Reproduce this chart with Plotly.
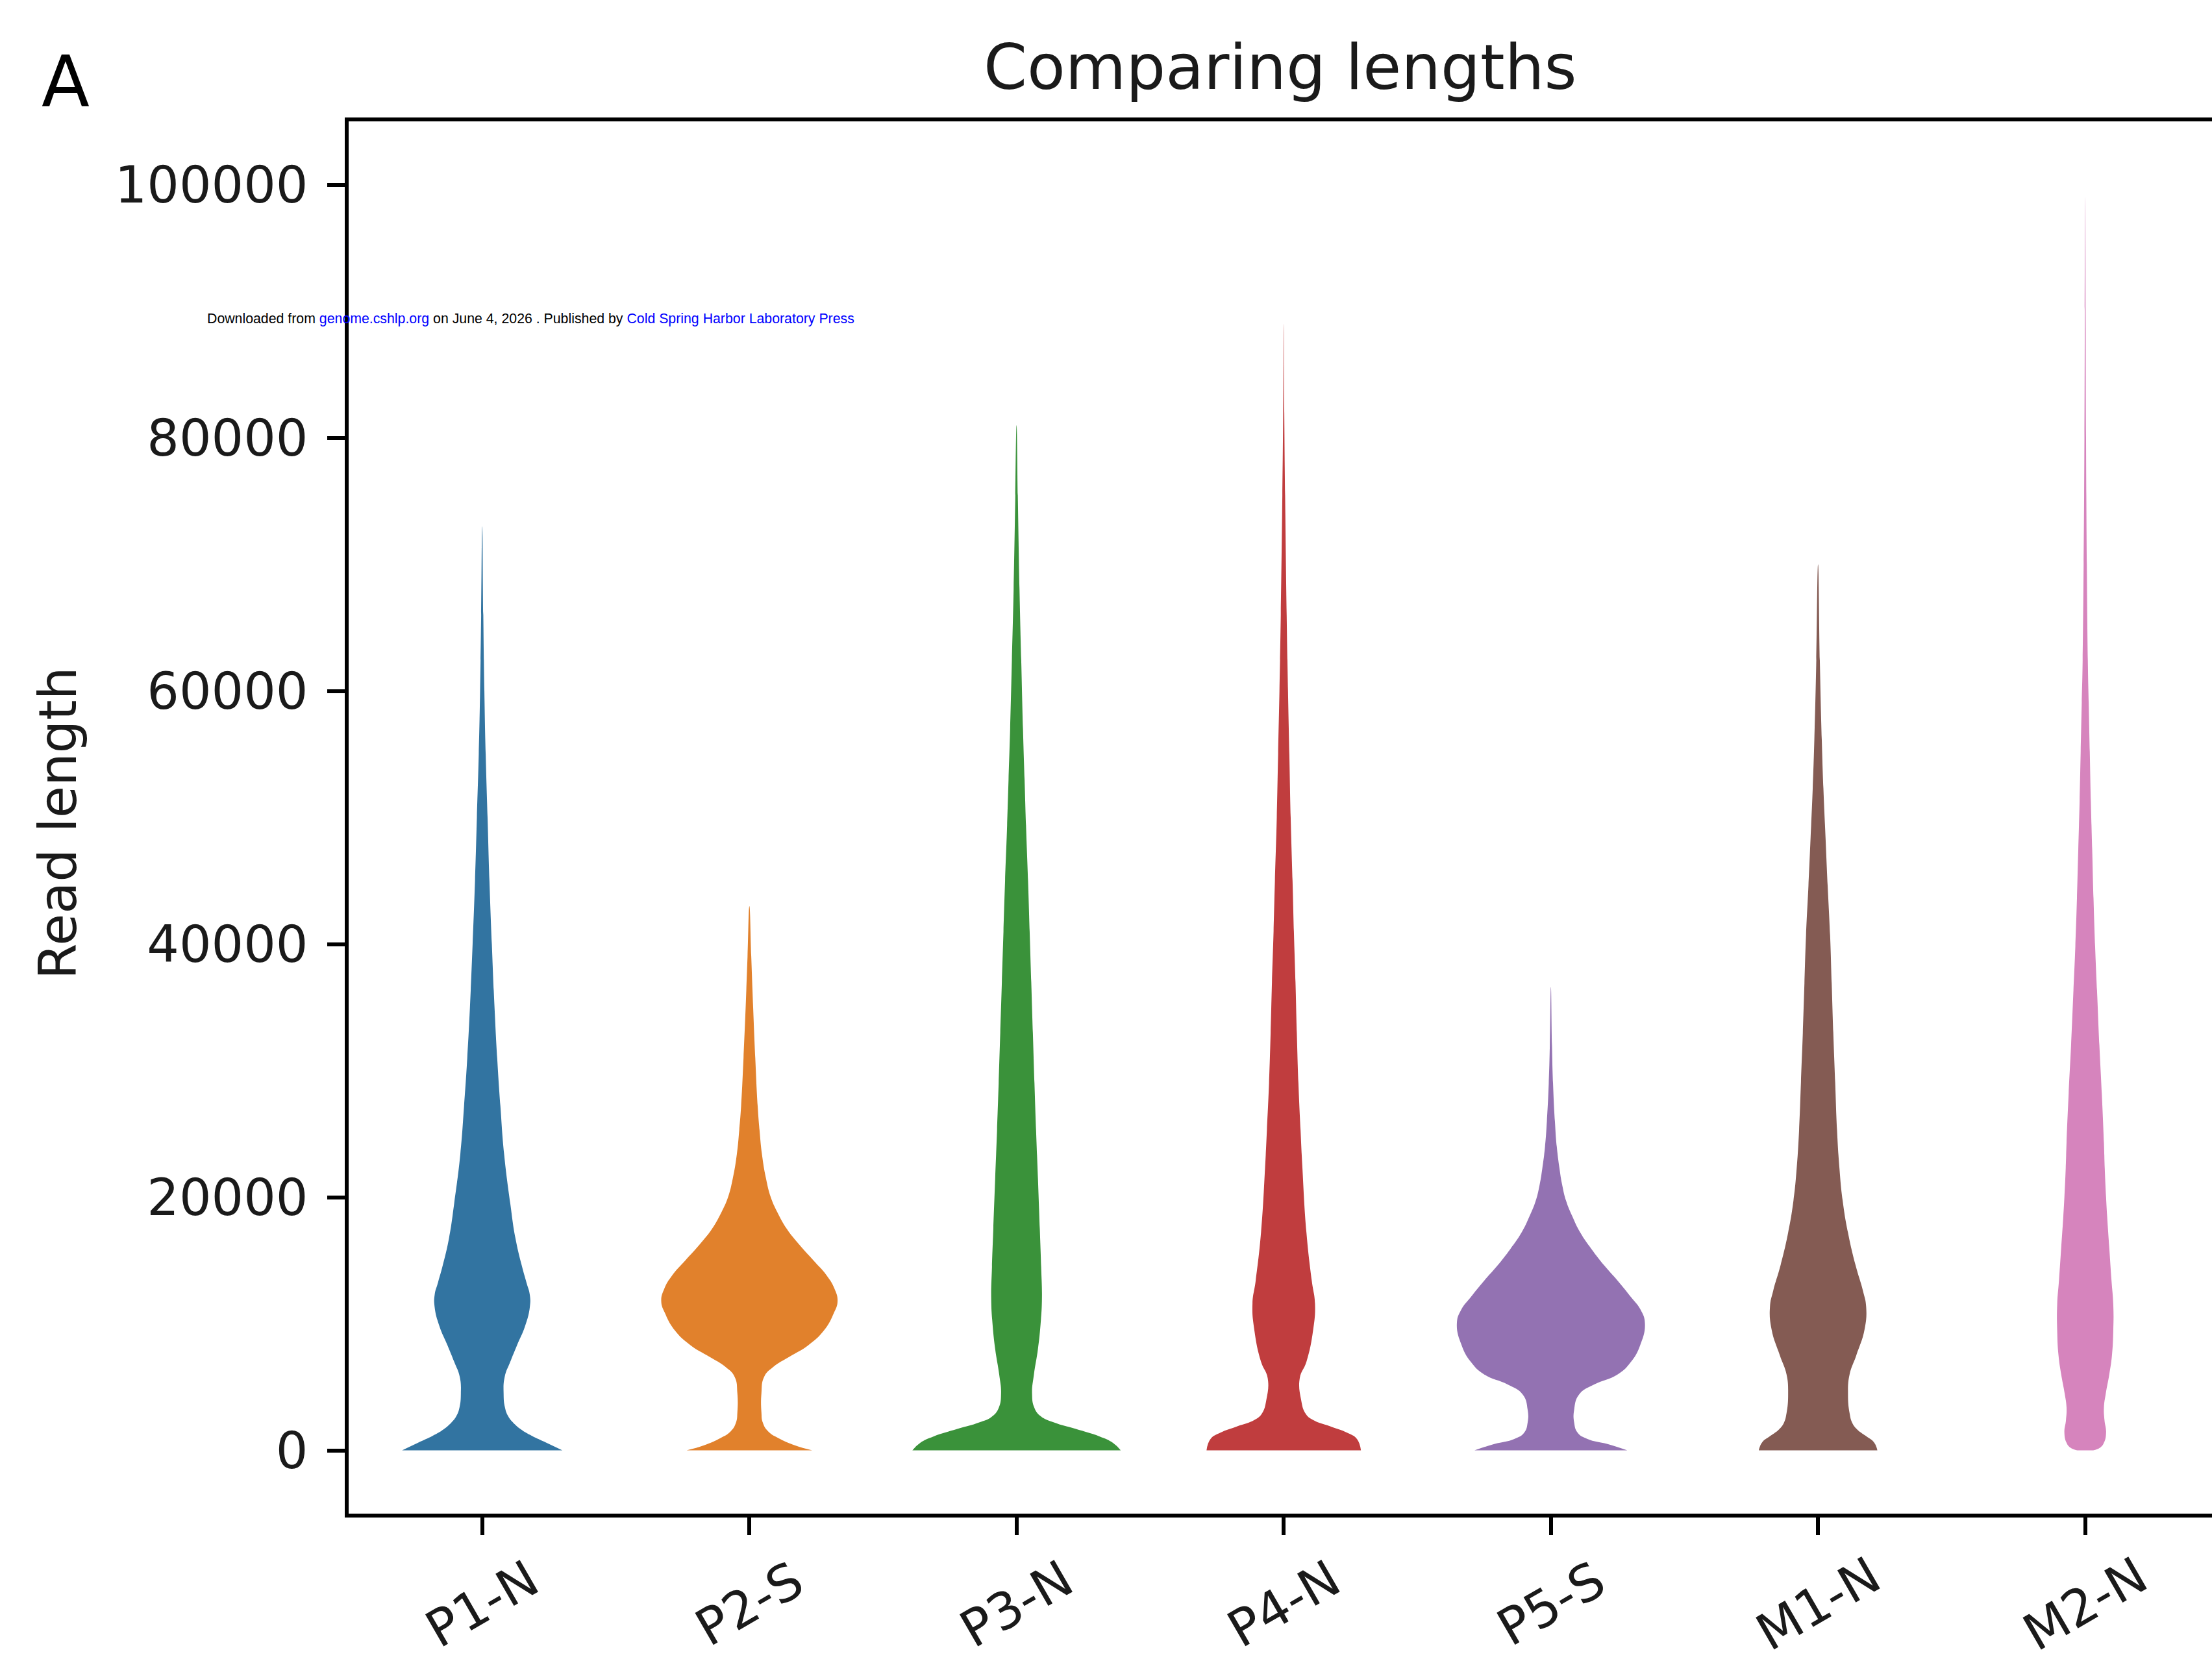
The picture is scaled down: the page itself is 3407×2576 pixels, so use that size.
import plotly.graph_objects as go

# ---------------- data ----------------
categories = ["P1-N", "P2-S", "P3-N", "P4-N", "P5-S", "M1-N", "M2-N"]
colors = ["#3274a1", "#e1812c", "#3a923a", "#c03d3e", "#9372b2", "#845b53", "#d684bd"]

y_ticks = [0, 20000, 40000, 60000, 80000, 100000]

# violin outlines: read length levels and half-width of the density (category units)
p1n_levels = [0, 600, 1150, 1650, 2200, 2700, 3400, 4500, 5800, 7000, 8300, 9800, 11300, 12300,
              13300, 14600, 16800, 19500, 23400, 27200, 31000, 35000, 40000, 45000, 50000, 55000,
              60000, 66000, 73000]
p1n_halfwidth = [0.30, 0.24, 0.185, 0.145, 0.115, 0.097, 0.085, 0.08, 0.084, 0.105, 0.13, 0.16,
                 0.178, 0.178, 0.165, 0.148, 0.124, 0.105, 0.082, 0.068, 0.056, 0.046, 0.036,
                 0.027, 0.02, 0.013, 0.008, 0.004, 0.0]

p2s_levels = [0, 400, 900, 1500, 2200, 3000, 4500, 5800, 6600, 7400, 8300, 9500, 10800, 11800,
              12800, 13800, 15000, 16300, 17500, 18800, 20000, 21500, 23400, 25300, 27200, 31000,
              35000, 39000, 43000]
p2s_halfwidth = [0.235, 0.17, 0.115, 0.07, 0.05, 0.045, 0.045, 0.055, 0.09, 0.15, 0.22, 0.28,
                 0.315, 0.33, 0.318, 0.29, 0.24, 0.185, 0.14, 0.105, 0.08, 0.062, 0.047, 0.038,
                 0.031, 0.022, 0.014, 0.007, 0.0]

p3n_levels = [0, 600, 1100, 1700, 2200, 2700, 3400, 4500, 6000, 8000, 10000, 12000, 14500, 17500,
              21500, 25300, 29000, 33000, 37000, 41000, 45000, 49000, 53000, 57000, 62000, 68000,
              75000, 81000]
p3n_halfwidth = [0.39, 0.36, 0.31, 0.22, 0.14, 0.09, 0.066, 0.058, 0.065, 0.08, 0.09, 0.095,
                 0.092, 0.087, 0.08, 0.073, 0.067, 0.061, 0.055, 0.049, 0.043, 0.036, 0.03,
                 0.024, 0.018, 0.011, 0.005, 0.0]

p4n_levels = [0, 900, 1400, 1900, 2400, 2900, 4000, 5700, 7000, 9500, 11600, 13400, 17200, 22300,
              25300, 29000, 33000, 37000, 41000, 45000, 50000, 55000, 60000, 66000, 74000, 82000,
              89000]
p4n_halfwidth = [0.289, 0.274, 0.237, 0.174, 0.11, 0.082, 0.065, 0.06, 0.085, 0.11, 0.117, 0.105,
                 0.085, 0.07, 0.063, 0.055, 0.049, 0.044, 0.038, 0.033, 0.026, 0.021, 0.016,
                 0.011, 0.006, 0.002, 0.0]

p5s_levels = [0, 500, 900, 1400, 2200, 3200, 4400, 5200, 6000, 7000, 8300, 10000, 11100, 12100,
              13400, 14600, 15900, 17200, 18500, 19700, 21000, 22300, 24000, 26000, 29000, 32000,
              36600]
p5s_halfwidth = [0.286, 0.212, 0.137, 0.10, 0.087, 0.087, 0.105, 0.162, 0.25, 0.30, 0.334, 0.352,
                 0.336, 0.30, 0.25, 0.20, 0.152, 0.11, 0.08, 0.057, 0.042, 0.032, 0.022, 0.015,
                 0.008, 0.004, 0.0]

m1n_levels = [0, 640, 1150, 1660, 2170, 2930, 4460, 6000, 7500, 9550, 11340, 12600, 14650, 17200,
              19750, 22300, 25300, 29100, 33000, 36900, 40700, 44600, 48400, 52300, 56100, 62000,
              70000]
m1n_halfwidth = [0.222, 0.209, 0.178, 0.146, 0.128, 0.118, 0.112, 0.118, 0.143, 0.174, 0.18,
                 0.168, 0.14, 0.112, 0.092, 0.08, 0.071, 0.064, 0.057, 0.051, 0.045, 0.036,
                 0.028, 0.02, 0.014, 0.007, 0.0]

m2n_levels = [0, 200, 600, 1400, 2400, 3400, 4500, 6000, 7500, 9500, 11500, 13500, 16000, 18500,
              20000, 22300, 24300, 28200, 32000, 35900, 39800, 43600, 47500, 51300, 55200, 59100,
              62000, 70000, 80000, 90000, 99000]
m2n_halfwidth = [0.03, 0.055, 0.07, 0.078, 0.072, 0.07, 0.077, 0.09, 0.10, 0.105, 0.105, 0.098,
                 0.09, 0.082, 0.078, 0.073, 0.07, 0.062, 0.053, 0.045, 0.037, 0.031, 0.026, 0.021,
                 0.017, 0.013, 0.01, 0.006, 0.003, 0.0015, 0.0]

profiles = [
    (p1n_levels, p1n_halfwidth),
    (p2s_levels, p2s_halfwidth),
    (p3n_levels, p3n_halfwidth),
    (p4n_levels, p4n_halfwidth),
    (p5s_levels, p5s_halfwidth),
    (m1n_levels, m1n_halfwidth),
    (m2n_levels, m2n_halfwidth),
]

# ---------------- figure ----------------
W, H = 3407, 2576
L, R, T, B = 537, 0, 187, 244
plot_w = W - L - R
plot_h = H - T - B

fig = go.Figure()
for i, (cat, col, (lv, hw)) in enumerate(zip(categories, colors, profiles)):
    right_x = [i + w for w in hw]
    right_y = list(lv)
    if hw[-1] == 0:
        left_x = [i - w for w in reversed(hw[:-1])]
        left_y = list(reversed(lv[:-1]))
    else:
        left_x = [i - w for w in reversed(hw)]
        left_y = list(reversed(lv))
    fig.add_trace(go.Scatter(
        x=right_x + left_x, y=right_y + left_y,
        mode="lines", fill="toself", fillcolor=col,
        line=dict(color=col, width=0, shape="spline", smoothing=1.3),
        name=cat, showlegend=False, hoverinfo="skip",
    ))

axis_common = dict(
    showgrid=False, zeroline=False, showline=True, linewidth=6, linecolor="black",
    ticks="outside", ticklen=27, tickwidth=6, tickcolor="black",
)

fig.update_layout(
    width=W, height=H,
    margin=dict(l=L, r=R, t=T, b=B, pad=0),
    paper_bgcolor="white", plot_bgcolor="white",
    font=dict(family="DejaVu Sans", color="black"),
    showlegend=False,
    xaxis=dict(range=[-0.5, -0.5 + plot_w / 411.5], tickmode="array",
               tickvals=list(range(len(categories))), ticktext=categories,
               showticklabels=False, mirror=True, **axis_common),
    yaxis=dict(range=[-5000, 105000], tickmode="array", tickvals=y_ticks,
               ticktext=[str(v) for v in y_ticks],
               tickfont=dict(family="DejaVu Sans", size=78, color="#1a1a1a"),
               ticklabelstandoff=14, **axis_common),
)

def px_x(px):
    return (px - L) / plot_w

def px_y(py):
    return (H - B - py) / plot_h

annotations = []
# title
annotations.append(dict(text="Comparing lengths", xref="paper", yref="paper", x=0.5, y=px_y(104),
                        xanchor="center", yanchor="middle", showarrow=False,
                        font=dict(family="DejaVu Sans", size=96, color="#1a1a1a")))
# panel letter
annotations.append(dict(text="A", xref="paper", yref="paper", x=px_x(62), y=px_y(126),
                        xanchor="left", yanchor="middle", showarrow=False,
                        font=dict(family="DejaVu Sans", size=108, color="black")))
# y axis title
annotations.append(dict(text="Read length", xref="paper", yref="paper", x=px_x(89), y=px_y(1269),
                        xanchor="center", yanchor="middle", textangle=-90, showarrow=False,
                        font=dict(family="DejaVu Sans", size=80, color="#1a1a1a")))
# rotated category labels
for i, cat in enumerate(categories):
    annotations.append(dict(text=cat, xref="x", yref="paper", x=i, y=px_y(2471),
                            xanchor="center", yanchor="middle", textangle=-30, showarrow=False,
                            font=dict(family="DejaVu Sans", size=78, color="#1a1a1a")))
# download stamp
stamp = ("Downloaded from <span style='color:#0000ff'>genome.cshlp.org</span> on June 4, 2026 . "
         "Published by <span style='color:#0000ff'>Cold Spring Harbor Laboratory Press</span>")
annotations.append(dict(text=stamp, xref="paper", yref="paper", x=px_x(317), y=px_y(491),
                        xanchor="left", yanchor="middle", showarrow=False,
                        font=dict(family="Liberation Sans", size=21.3, color="black")))

fig.update_layout(annotations=annotations)

fig.write_html("out.html")
